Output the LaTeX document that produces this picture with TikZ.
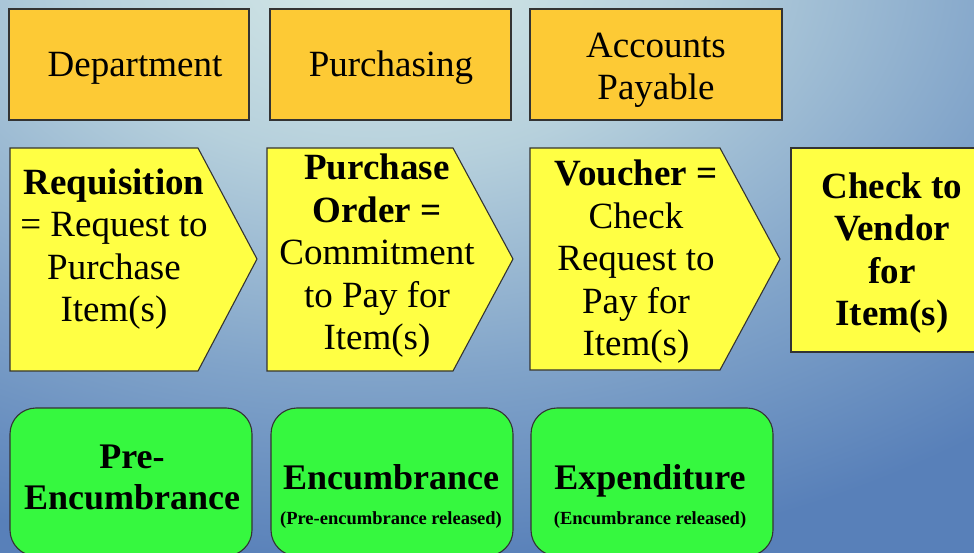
\documentclass[tikz,border=0pt]{standalone}
\usepackage{fontspec}
\setmainfont{Liberation Serif}
\definecolor{bgin}{HTML}{D8EBE8}
\definecolor{bgmid}{HTML}{B6D0DC}
\definecolor{bgmid2}{HTML}{80A3C9}
\definecolor{bgout}{HTML}{5880B9}
\definecolor{orangebox}{HTML}{FDCA35}
\definecolor{yellowbox}{HTML}{FFFF44}
\definecolor{greenbox}{HTML}{36F83F}
\definecolor{edge}{HTML}{333333}
\pgfdeclareradialshading{bgshade}{\pgfpoint{0bp}{0bp}}{color(0bp)=(bgin); color(8bp)=(bgmid); color(17bp)=(bgmid2); color(25bp)=(bgout); color(50bp)=(bgout)}
\begin{document}
\begin{tikzpicture}[x=1pt,y=-1pt,
  box/.style={draw=edge, line width=1.1pt},
  deptbox/.style={box, fill=orangebox},
  docbox/.style={box, fill=yellowbox},
  statbox/.style={box, fill=greenbox, rounded corners=26pt},
  deptlabel/.style={font=\fontsize{37}{42}\selectfont, align=center, inner sep=0pt},
  doclabel/.style={font=\fontsize{37}{42.5}\selectfont, align=center, inner sep=0pt},
  statlabel/.style={font=\fontsize{36}{41}\selectfont\bfseries, align=center, inner sep=0pt}
]
\useasboundingbox (0,0) rectangle (974,553);
\begin{scope}
  \clip (0,0) rectangle (974,553);
  \fill[bgout] (0,0) rectangle (974,553);
  \shade[shading=bgshade] (380,-30) ellipse [x radius=950, y radius=600];
\end{scope}

% department row
\draw[deptbox] (9,9) rectangle (249,120);
\draw[deptbox] (270,9) rectangle (511,120);
\draw[deptbox] (530,9) rectangle (782,120);
\node[deptlabel] (dep) at (135,68) {Department};
\node[deptlabel] (pur) at (391,68) {Purchasing};
\node[deptlabel] (ap) at (656,70) {Accounts\\Payable};

% document row
\draw[docbox] (10,148) -- (198,148) -- (257,259) -- (198,371) -- (10,371) -- cycle;
\draw[docbox] (267,148) -- (453,148) -- (513,259) -- (453,371) -- (267,371) -- cycle;
\draw[docbox] (530,148) -- (720,148) -- (780,259) -- (720,370) -- (530,370) -- cycle;
\draw[docbox] (791,148) rectangle (980,352);
\node[doclabel] (req) at (114,249) {\textbf{Requisition}\\= Request to\\Purchase\\Item(s)};
\node[doclabel] (po) at (377,256) {\textbf{Purchase}\\\textbf{Order =}\\Commitment\\to Pay for\\Item(s)};
\node[doclabel] (vou) at (636,262) {\textbf{Voucher =}\\Check\\Request to\\Pay for\\Item(s)};
\node[doclabel, font=\fontsize{37}{42.5}\selectfont\bfseries] (chk) at (892,253) {Check to\\Vendor\\for\\Item(s)};

% status row
\draw[statbox] (10,408) rectangle (252,556);
\draw[statbox] (271,408) rectangle (513,556);
\draw[statbox] (531,408) rectangle (773,556);
\node[statlabel] (pre) at (132,477) {Pre-\\Encumbrance};
\node[statlabel] (enc) at (391,496) {Encumbrance\\[-6pt]{\fontsize{18.5}{20}\selectfont (Pre-encumbrance released)}};
\node[statlabel] (exp) at (650,496) {Expenditure\\[-6pt]{\fontsize{18.5}{20}\selectfont (Encumbrance released)}};
\end{tikzpicture}
\end{document}
